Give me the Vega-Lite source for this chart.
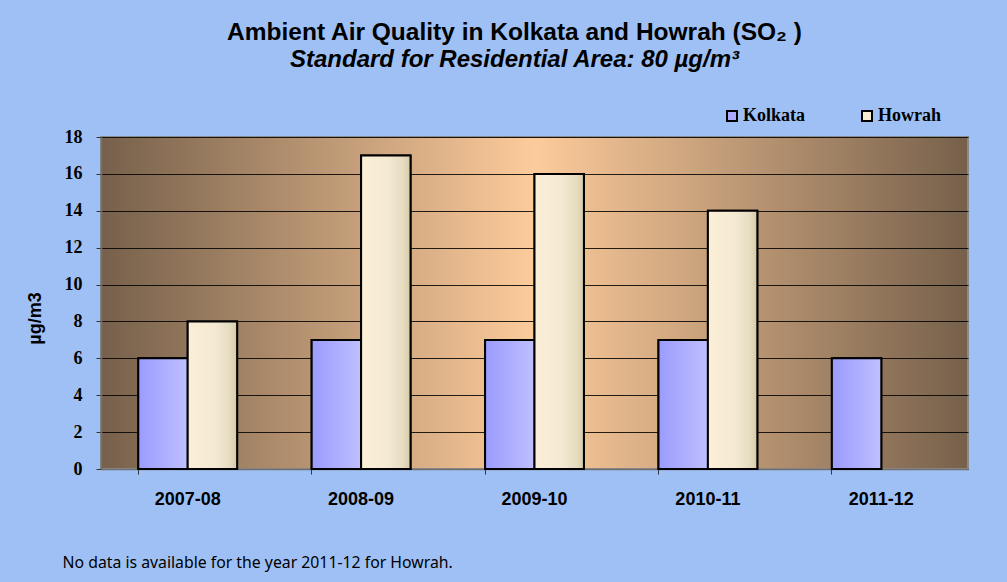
{
  "$schema": "https://vega.github.io/schema/vega-lite/v6.json",
  "width": 867,
  "height": 332,
  "autosize": {"type": "none"},
  "padding": {"left": 101, "top": 137, "right": 39, "bottom": 113},
  "background": "#9fc0f5",
  "title": {
    "text": "Ambient Air Quality in Kolkata and Howrah (SO₂ )",
    "subtitle": "Standard for Residential Area: 80 µg/m³",
    "anchor": "middle",
    "frame": "group",
    "dx": -20,
    "offset": 34,
    "font": "Liberation Sans",
    "fontSize": 24.5,
    "fontWeight": "bold",
    "color": "black",
    "subtitleFont": "Liberation Sans",
    "subtitleFontSize": 24,
    "subtitleFontStyle": "italic",
    "subtitleFontWeight": "bold",
    "subtitleColor": "black",
    "subtitlePadding": 3
  },
  "config": {
    "view": {
      "stroke": "#8a8a8a",
      "strokeWidth": 2,
      "fill": {
        "gradient": "linear",
        "x1": 0, "y1": 0, "x2": 1, "y2": 0,
        "stops": [
          {"offset": 0, "color": "#76604b"},
          {"offset": 0.5, "color": "#fdcb9b"},
          {"offset": 1, "color": "#76604b"}
        ]
      }
    }
  },
  "data": {
    "values": [
      {"year": "2007-08", "series": "Kolkata", "value": 6},
      {"year": "2007-08", "series": "Howrah", "value": 8},
      {"year": "2008-09", "series": "Kolkata", "value": 7},
      {"year": "2008-09", "series": "Howrah", "value": 17},
      {"year": "2009-10", "series": "Kolkata", "value": 7},
      {"year": "2009-10", "series": "Howrah", "value": 16},
      {"year": "2010-11", "series": "Kolkata", "value": 7},
      {"year": "2010-11", "series": "Howrah", "value": 14},
      {"year": "2011-12", "series": "Kolkata", "value": 6}
    ]
  },
  "encoding": {
    "x": {
      "field": "year",
      "type": "nominal",
      "sort": null,
      "scale": {"paddingInner": 0.43, "paddingOuter": 0.215},
      "axis": {
        "title": "No data is available for the year 2011-12 for Howrah.",
        "titleFont": "Noto Sans",
        "titleFontSize": 15.8,
        "titleFontWeight": "normal",
        "titleColor": "black",
        "titleAnchor": "start",
        "titleAlign": "left",
        "titleBaseline": "alphabetic",
        "titleX": -39,
        "titleY": 98,
        "labelAngle": 0,
        "labelFont": "Liberation Sans",
        "labelFontSize": 18,
        "labelFontWeight": "bold",
        "labelColor": "black",
        "labelPadding": 16,
        "bandPosition": 0,
        "tickSize": 5,
        "tickColor": "#333333",
        "domainColor": "#707070",
        "domainWidth": 1.5
      }
    },
    "xOffset": {"field": "series", "type": "nominal", "scale": {"domain": ["Kolkata", "Howrah"]}},
    "y": {
      "field": "value",
      "type": "quantitative",
      "scale": {"domain": [0, 18], "nice": false},
      "axis": {
        "title": "µg/m3",
        "titleFont": "Liberation Sans",
        "titleFontSize": 18,
        "titleFontWeight": "bold",
        "titleColor": "black",
        "titleAngle": -90,
        "titleAlign": "center",
        "titleBaseline": "alphabetic",
        "titleX": -61,
        "titleY": 181,
        "values": [0, 2, 4, 6, 8, 10, 12, 14, 16, 18],
        "labelFont": "Liberation Serif",
        "labelFontSize": 18,
        "labelFontWeight": "bold",
        "labelColor": "black",
        "labelPadding": 14,
        "tickSize": 5,
        "tickColor": "#333333",
        "domainColor": "#707070",
        "domainWidth": 1.5,
        "grid": true,
        "gridColor": "#000000",
        "gridOpacity": 0.85,
        "gridWidth": 1.2
      }
    }
  },
  "layer": [
    {
      "mark": {"type": "bar", "stroke": "black", "strokeWidth": 2},
      "encoding": {
        "fill": {
          "field": "series",
          "type": "nominal",
          "scale": {"domain": ["Kolkata", "Howrah"], "range": ["#aaaaff", "#f6ecd4"]},
          "legend": {
            "title": null,
            "orient": "none",
            "legendX": 622,
            "legendY": -30,
            "direction": "horizontal",
            "symbolType": "square",
            "symbolSize": 100,
            "symbolStrokeColor": "black",
            "symbolStrokeWidth": 2,
            "symbolOpacity": 1,
            "labelFont": "Liberation Serif",
            "labelFontSize": 18,
            "labelFontWeight": "bold",
            "labelColor": "black",
            "labelOffset": 2,
            "columnPadding": 52
          }
        }
      }
    },
    {
      "transform": [{"filter": "datum.series === 'Kolkata'"}],
      "mark": {
        "type": "bar",
        "stroke": "black",
        "strokeWidth": 2,
        "fill": {
          "gradient": "linear",
          "x1": 0, "y1": 0, "x2": 1, "y2": 0,
          "stops": [
            {"offset": 0, "color": "#9b9bff"},
            {"offset": 1, "color": "#bfbfff"}
          ]
        }
      }
    },
    {
      "transform": [{"filter": "datum.series === 'Howrah'"}],
      "mark": {
        "type": "bar",
        "stroke": "black",
        "strokeWidth": 2,
        "fill": {
          "gradient": "linear",
          "x1": 0, "y1": 0, "x2": 1, "y2": 0,
          "stops": [
            {"offset": 0, "color": "#fcefd7"},
            {"offset": 0.55, "color": "#f4e9d2"},
            {"offset": 0.85, "color": "#e6dcc0"},
            {"offset": 1, "color": "#d6caa6"}
          ]
        }
      }
    }
  ]
}
